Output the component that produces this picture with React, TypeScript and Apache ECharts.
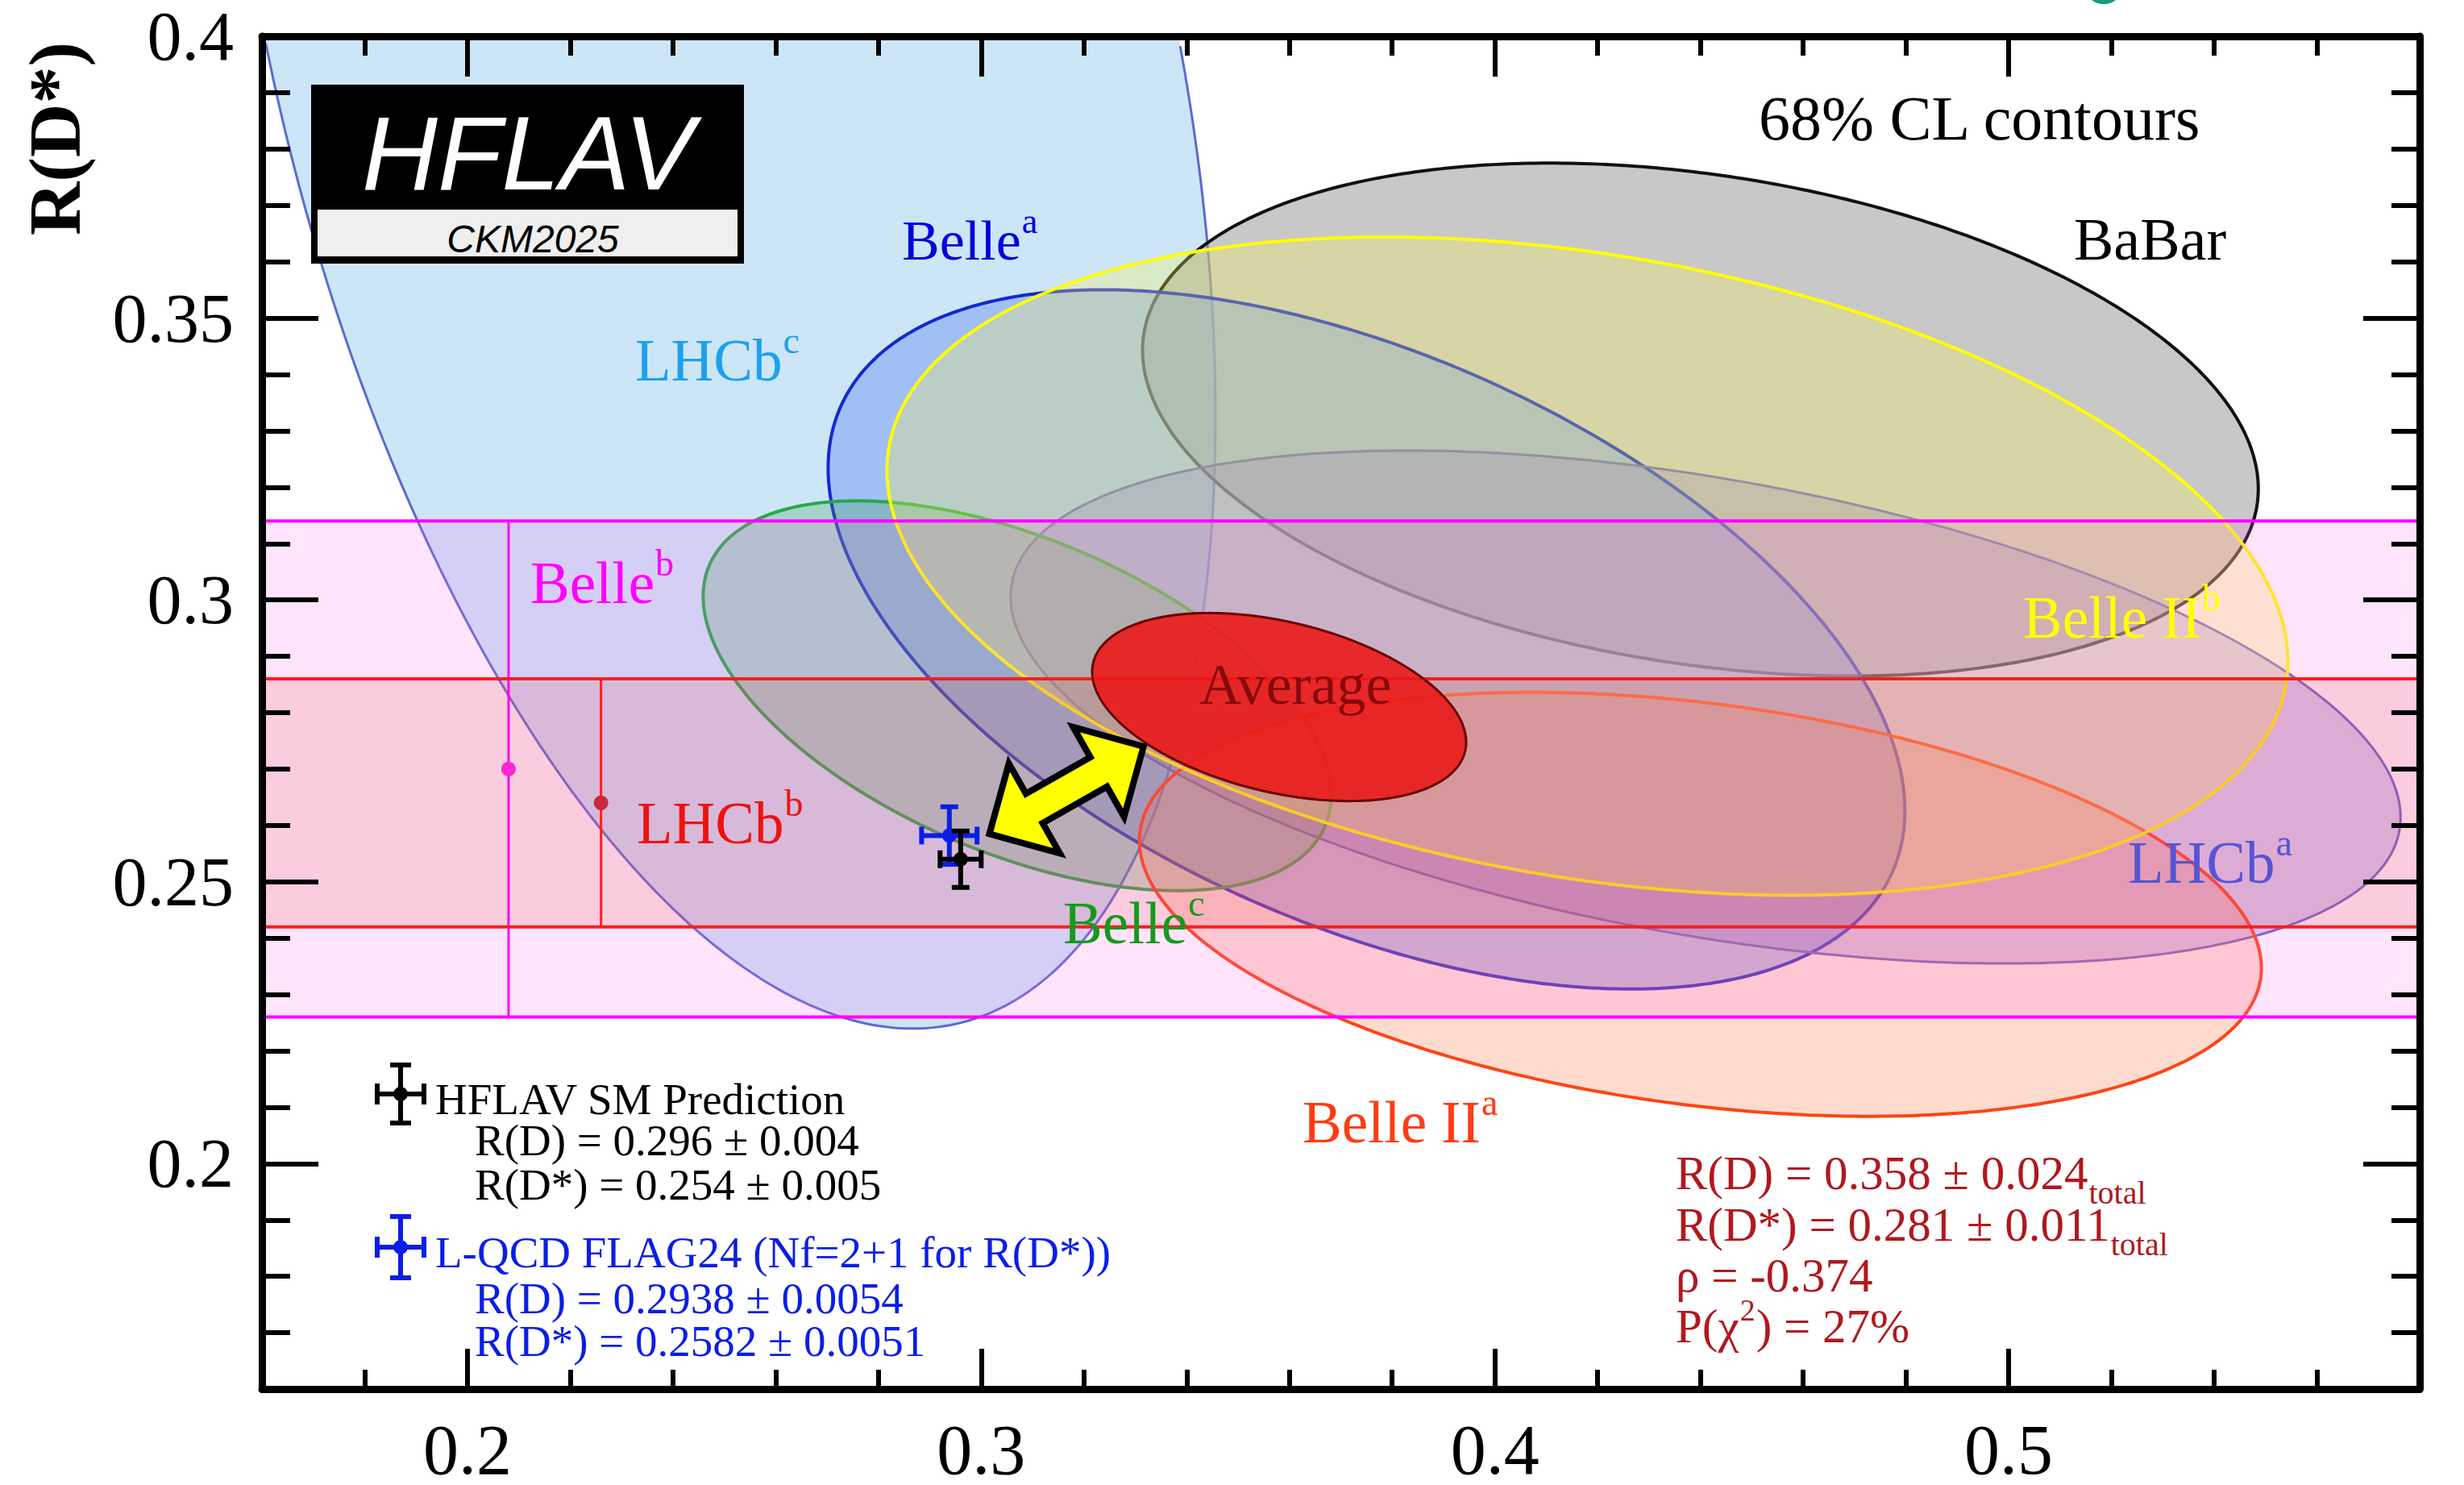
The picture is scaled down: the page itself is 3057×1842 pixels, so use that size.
import React, { useEffect, useRef } from 'react';
import * as echarts from 'echarts';

// ---------------- data ----------------
const X_MIN = 0.16;
const X_MAX = 0.58;
const Y_MIN = 0.16;
const Y_MAX = 0.4;

const xMajorTicks = [0.2, 0.3, 0.4, 0.5];
const xMinorTicks = [0.18, 0.22, 0.24, 0.26, 0.28, 0.32, 0.34, 0.36, 0.38, 0.42, 0.44, 0.46, 0.48, 0.52, 0.54, 0.56];
const yMajorTicks = [0.2, 0.25, 0.3, 0.35, 0.4];
const yMinorTicks = [0.17, 0.18, 0.19, 0.21, 0.22, 0.23, 0.24, 0.26, 0.27, 0.28, 0.29, 0.31, 0.32, 0.33, 0.34, 0.36, 0.37, 0.38, 0.39];

// 2D measurements (68% CL contours): R(D), σ, R(D*), σ, ρ
const ellipseNames = ['LHCb^c', 'BaBar', 'Belle^a', 'LHCb^a', 'Belle^c', 'Belle II^a', 'Belle II^b'];
const ellipseRD = [0.249, 0.44, 0.375, 0.441, 0.307, 0.44, 0.418];
const ellipseRDErr = [0.0637, 0.0716, 0.0691, 0.0892, 0.0403, 0.072, 0.0899];
const ellipseRDs = [0.402, 0.332, 0.293, 0.281, 0.283, 0.246, 0.306];
const ellipseRDsErr = [0.1174, 0.03, 0.0409, 0.03, 0.0228, 0.0248, 0.0385];
const ellipseRho = [-0.39, -0.27, -0.49, -0.43, -0.51, -0.3, -0.29];

// R(D*)-only measurements (1σ bands)
const bandNames = ['Belle^b', 'LHCb^b'];
const bandRDs = [0.27, 0.264];
const bandRDsErr = [0.044, 0.022];
const bandMarkerRD = [0.208, 0.226];

// average
const averageRD = 0.358;
const averageRDErr = 0.024;
const averageRDs = 0.281;
const averageRDsErr = 0.011;
const averageRho = -0.374;
const averageChi2Prob = '27%';

// predictions
const predNames = ['L-QCD FLAG24', 'HFLAV SM'];
const predRD = [0.2938, 0.296];
const predRDErr = [0.0054, 0.004];
const predRDs = [0.2582, 0.254];
const predRDsErr = [0.0051, 0.005];

// arrow (tension between SM and average)
const arrowFrom = [0.3016, 0.2585];
const arrowTo = [0.3316, 0.274];

// ---------------- styles ----------------
const SERIF = "'Liberation Serif', 'Times New Roman', serif";
const SANS = "'Liberation Sans', Arial, sans-serif";
const K68 = Math.sqrt(2.3);

const ellipseStyle: Record<string, { fill: string; stroke: string; width: number }> = {
  'LHCb^c': { fill: 'rgba(153,205,241,0.5)', stroke: '#5b6bd0', width: 3 },
  BaBar: { fill: 'rgba(145,145,145,0.5)', stroke: '#111111', width: 4 },
  'Belle^a': { fill: 'rgba(116,152,242,0.5)', stroke: '#1428d2', width: 4 },
  'LHCb^a': { fill: 'rgba(120,105,215,0.3)', stroke: '#6468c0', width: 3 },
  'Belle^c': { fill: 'rgba(60,165,80,0.28)', stroke: '#28a848', width: 4 },
  'Belle II^a': { fill: 'rgba(255,110,60,0.25)', stroke: '#ff4414', width: 4 },
  'Belle II^b': { fill: 'rgba(253,243,87,0.3)', stroke: '#ffff00', width: 4 },
};
const averageStyle = { fill: 'rgba(236,22,22,0.88)', stroke: '#6a0000', width: 3 };
const bandStyle: Record<string, { fill: string; line: string; dot: string }> = {
  'Belle^b': { fill: 'rgba(255,105,240,0.18)', line: '#ff00ff', dot: '#ff22ee' },
  'LHCb^b': { fill: 'rgba(230,60,40,0.14)', line: '#ff1c1c', dot: '#c8283c' },
};
const predColor: Record<string, string> = { 'L-QCD FLAG24': '#0a1ee6', 'HFLAV SM': '#000000' };

// ---------------- helpers ----------------
let measureCtx: CanvasRenderingContext2D | null = null;
function measure(text: string, size: number, family = SERIF, weight = 'normal') {
  if (!measureCtx) measureCtx = document.createElement('canvas').getContext('2d');
  measureCtx!.font = `${weight} ${size}px ${family}`;
  return measureCtx!.measureText(text).width;
}

function gText(x: number, baseline: number, text: string, size: number, color: string, extra: any = {}) {
  const weight = extra.weight || 'normal';
  const fstyle = extra.fontStyle || 'normal';
  const family = extra.family || SERIF;
  const align = extra.align || 'left';
  return {
    type: 'text',
    z: 50,
    x,
    y: extra.rotation ? baseline : baseline - 0.34 * size,
    rotation: extra.rotation || 0,
    silent: true,
    style: {
      text,
      fill: color,
      font: `${fstyle} ${weight} ${size}px ${family}`,
      textAlign: align,
      textVerticalAlign: 'middle',
      align,
      verticalAlign: 'middle',
      lineHeight: extra.lineHeight ?? Math.round(size * 0.9),
      opacity: extra.opacity ?? 1,
    },
  };
}

function supLabel(x: number, baseline: number, base: string, sup: string, size: number, color: string) {
  const els: any[] = [gText(x, baseline, base, size, color)];
  if (sup) {
    els.push(gText(x + measure(base, size) + 1, baseline - 0.46 * size, sup, Math.round(size * 0.63), color));
  }
  return els;
}

function subLine(x: number, baseline: number, base: string, sub: string, size: number, color: string) {
  const els: any[] = [gText(x, baseline, base, size, color, { lineHeight: 48 })];
  if (sub) els.push(gText(x + measure(base, size) + 1, baseline + 0.3 * size, sub, Math.round(size * 0.68), color, { lineHeight: 30 }));
  return els;
}

function gLine(x1: number, y1: number, x2: number, y2: number, color: string, w: number) {
  return { type: 'line', z: 50, silent: true, shape: { x1, y1, x2, y2 }, style: { stroke: color, lineWidth: w } };
}

function legendCross(cx: number, cy: number, hx: number, hy: number, color: string) {
  const cap = 13;
  return [
    gLine(cx - hx, cy, cx + hx, cy, color, 6),
    gLine(cx, cy - hy, cx, cy + hy, color, 6),
    gLine(cx - hx, cy - cap, cx - hx, cy + cap, color, 6),
    gLine(cx + hx, cy - cap, cx + hx, cy + cap, color, 6),
    gLine(cx - cap, cy - hy, cx + cap, cy - hy, color, 6),
    gLine(cx - cap, cy + hy, cx + cap, cy + hy, color, 6),
    { type: 'circle', z: 50, silent: true, shape: { cx, cy, r: 9 }, style: { fill: color } },
  ];
}

function clipPolygon(pts: number[][], xmin: number, ymin: number, xmax: number, ymax: number) {
  const clipEdge = (input: number[][], inside: (p: number[]) => boolean, inter: (a: number[], b: number[]) => number[]) => {
    const out: number[][] = [];
    for (let i = 0; i < input.length; i++) {
      const cur = input[i];
      const prev = input[(i + input.length - 1) % input.length];
      const cIn = inside(cur);
      const pIn = inside(prev);
      if (cIn) {
        if (!pIn) out.push(inter(prev, cur));
        out.push(cur);
      } else if (pIn) out.push(inter(prev, cur));
    }
    return out;
  };
  const ix = (xc: number) => (a: number[], b: number[]) => {
    const t = (xc - a[0]) / (b[0] - a[0]);
    return [xc, a[1] + t * (b[1] - a[1])];
  };
  const iy = (yc: number) => (a: number[], b: number[]) => {
    const t = (yc - a[1]) / (b[1] - a[1]);
    return [a[0] + t * (b[0] - a[0]), yc];
  };
  let p = pts;
  p = clipEdge(p, (q) => q[0] >= xmin, ix(xmin));
  if (p.length) p = clipEdge(p, (q) => q[0] <= xmax, ix(xmax));
  if (p.length) p = clipEdge(p, (q) => q[1] >= ymin, iy(ymin));
  if (p.length) p = clipEdge(p, (q) => q[1] <= ymax, iy(ymax));
  return p;
}

function insideSegments(pts: number[][], cs: any) {
  const inside = (p: number[]) => p[0] >= cs.x && p[0] <= cs.x + cs.width && p[1] >= cs.y && p[1] <= cs.y + cs.height;
  const n = pts.length;
  const start = pts.findIndex((p) => !inside(p));
  if (start < 0) return [[...pts, pts[0]]];
  const segs: number[][][] = [];
  let cur: number[][] = [];
  for (let k = 1; k <= n; k++) {
    const p = pts[(start + k) % n];
    if (inside(p)) cur.push(p);
    else {
      if (cur.length > 1) segs.push(cur);
      cur = [];
    }
  }
  if (cur.length > 1) segs.push(cur);
  return segs;
}

function ellipseElements(api: any, cs: any, mx: number, sx: number, my: number, sy: number, rho: number, st: any) {
  const pts: number[][] = [];
  const N = 480;
  const r2 = Math.sqrt(1 - rho * rho);
  for (let k = 0; k < N; k++) {
    const t = (2 * Math.PI * k) / N;
    const ct = Math.cos(t);
    const snt = Math.sin(t);
    pts.push(api.coord([mx + K68 * sx * ct, my + K68 * sy * (rho * ct + r2 * snt)]));
  }
  const fillPts = clipPolygon(pts, cs.x, cs.y, cs.x + cs.width, cs.y + cs.height);
  const segs = insideSegments(pts, cs);
  return [
    { type: 'polygon', shape: { points: fillPts }, style: { fill: st.fill, stroke: null } },
    ...segs.map((seg) => ({
      type: 'polyline',
      shape: { points: seg },
      style: { stroke: st.stroke, lineWidth: st.width, fill: null },
    })),
  ];
}

// ---------------- option ----------------
function buildOption() {
  const tickLine = { color: '#000', width: 6 };
  const mkX = (pos: string, major: boolean, labels: boolean) => ({
    type: 'value',
    min: X_MIN,
    max: X_MAX,
    position: pos,
    z: 10,
    silent: true,
    axisLine: { show: major, onZero: false, lineStyle: { color: '#000', width: 9 } },
    axisTick: {
      show: true,
      inside: true,
      length: major ? 50 : 24,
      customValues: major ? xMajorTicks : xMinorTicks,
      lineStyle: tickLine,
    },
    axisLabel: labels
      ? {
          show: true,
          customValues: xMajorTicks,
          margin: 51,
          lineHeight: 48,
          fontFamily: 'Liberation Serif',
          fontSize: 88,
          color: '#000',
          formatter: (v: number) => String(v),
        }
      : { show: false },
    splitLine: { show: false },
  });
  const mkY = (pos: string, major: boolean, labels: boolean) => ({
    type: 'value',
    min: Y_MIN,
    max: Y_MAX,
    position: pos,
    z: 10,
    silent: true,
    axisLine: { show: major, onZero: false, lineStyle: { color: '#000', width: 9 } },
    axisTick: {
      show: true,
      inside: true,
      length: major ? 70 : 35,
      customValues: major ? yMajorTicks : yMinorTicks,
      lineStyle: tickLine,
    },
    axisLabel: labels
      ? {
          show: true,
          customValues: yMajorTicks,
          margin: 35,
          lineHeight: 50,
          fontFamily: 'Liberation Serif',
          fontSize: 86,
          color: '#000',
          formatter: (v: number) => String(v),
        }
      : { show: false },
    splitLine: { show: false },
  });

  const ellipseData = ellipseNames.map((_, i) => [ellipseRD[i], ellipseRDErr[i], ellipseRDs[i], ellipseRDsErr[i], ellipseRho[i]]);
  const bandData = bandNames.map((_, i) => [bandMarkerRD[i], bandRDs[i], bandRDsErr[i]]);
  const predData = predNames.map((_, i) => [predRD[i], predRDErr[i], predRDs[i], predRDsErr[i]]);

  const series: any[] = [
    {
      type: 'custom',
      name: 'measurements',
      z: 2,
      silent: true,
      data: ellipseData,
      renderItem: (params: any, api: any) => {
        const cs = params.coordSys;
        const st = ellipseStyle[ellipseNames[params.dataIndex]];
        return {
          type: 'group',
          children: ellipseElements(api, cs, api.value(0), api.value(1), api.value(2), api.value(3), api.value(4), st),
        };
      },
    },
    {
      type: 'custom',
      name: 'bands',
      z: 3,
      silent: true,
      data: bandData,
      renderItem: (params: any, api: any) => {
        const cs = params.coordSys;
        const st = bandStyle[bandNames[params.dataIndex]];
        const mx = api.value(0);
        const c = api.value(1);
        const e = api.value(2);
        const top = api.coord([X_MIN, c + e])[1];
        const bot = api.coord([X_MIN, c - e])[1];
        const p = api.coord([mx, c]);
        return {
          type: 'group',
          children: [
            { type: 'rect', shape: { x: cs.x, y: top, width: cs.width, height: bot - top }, style: { fill: st.fill } },
            { type: 'line', shape: { x1: cs.x, y1: top, x2: cs.x + cs.width, y2: top }, style: { stroke: st.line, lineWidth: 4 } },
            { type: 'line', shape: { x1: cs.x, y1: bot, x2: cs.x + cs.width, y2: bot }, style: { stroke: st.line, lineWidth: 4 } },
            { type: 'line', shape: { x1: p[0], y1: top, x2: p[0], y2: bot }, style: { stroke: st.line, lineWidth: 3 } },
            { type: 'circle', shape: { cx: p[0], cy: p[1], r: 9 }, style: { fill: st.dot } },
          ],
        };
      },
    },
    {
      type: 'custom',
      name: 'average',
      z: 4,
      silent: true,
      data: [[averageRD, averageRDErr, averageRDs, averageRDsErr, averageRho]],
      renderItem: (params: any, api: any) => ({
        type: 'group',
        children: ellipseElements(api, params.coordSys, api.value(0), api.value(1), api.value(2), api.value(3), api.value(4), averageStyle),
      }),
    },
    {
      type: 'custom',
      name: 'arrow',
      z: 5,
      silent: true,
      data: [[arrowFrom[0], arrowFrom[1], arrowTo[0], arrowTo[1]]],
      renderItem: (params: any, api: any) => {
        const a = api.coord([api.value(0), api.value(1)]);
        const b = api.coord([api.value(2), api.value(3)]);
        const dx = b[0] - a[0];
        const dy = b[1] - a[1];
        const L = Math.hypot(dx, dy);
        const ux = dx / L;
        const uy = dy / L;
        const nx = -uy;
        const ny = ux;
        const H = 64;
        const W = 64;
        const S = 21;
        const pt = (s: number, n: number) => [a[0] + ux * s + nx * n, a[1] + uy * s + ny * n];
        const points = [pt(0, 0), pt(H, W), pt(H, S), pt(L - H, S), pt(L - H, W), pt(L, 0), pt(L - H, -W), pt(L - H, -S), pt(H, -S), pt(H, -W)];
        return { type: 'polygon', shape: { points }, style: { fill: '#ffff00', stroke: '#000', lineWidth: 8, lineJoin: 'miter' } };
      },
    },
    {
      type: 'custom',
      name: 'predictions',
      z: 6,
      silent: true,
      data: predData,
      renderItem: (params: any, api: any) => {
        const color = predColor[predNames[params.dataIndex]];
        const x = api.value(0);
        const ex = api.value(1);
        const y = api.value(2);
        const ey = api.value(3);
        const c = api.coord([x, y]);
        const l = api.coord([x - ex, y]);
        const r = api.coord([x + ex, y]);
        const t = api.coord([x, y + ey]);
        const b = api.coord([x, y - ey]);
        const cap = 11;
        const st = { stroke: color, lineWidth: 6 };
        return {
          type: 'group',
          children: [
            { type: 'line', shape: { x1: l[0], y1: c[1], x2: r[0], y2: c[1] }, style: st },
            { type: 'line', shape: { x1: c[0], y1: t[1], x2: c[0], y2: b[1] }, style: st },
            { type: 'line', shape: { x1: l[0], y1: c[1] - cap, x2: l[0], y2: c[1] + cap }, style: st },
            { type: 'line', shape: { x1: r[0], y1: c[1] - cap, x2: r[0], y2: c[1] + cap }, style: st },
            { type: 'line', shape: { x1: c[0] - cap, y1: t[1], x2: c[0] + cap, y2: t[1] }, style: st },
            { type: 'line', shape: { x1: c[0] - cap, y1: b[1], x2: c[0] + cap, y2: b[1] }, style: st },
            { type: 'circle', shape: { cx: c[0], cy: c[1], r: 9 }, style: { fill: color } },
          ],
        };
      },
    },
  ];

  // ---- annotations ----
  const g: any[] = [];
  // HFLAV logo
  g.push({ type: 'rect', z: 50, silent: true, shape: { x: 386, y: 105, width: 537, height: 222 }, style: { fill: '#000' } });
  g.push({ type: 'rect', z: 50, silent: true, shape: { x: 394, y: 260, width: 521, height: 58 }, style: { fill: '#efefef' } });
  g.push(gText(655, 234, 'HFLAV', 130, '#ffffff', { family: SANS, fontStyle: 'italic', align: 'center' }));
  g.push(gText(661, 313, 'CKM2025', 48, '#000000', { family: SANS, fontStyle: 'italic', align: 'center' }));
  // partial teal mark at top edge
  g.push({ type: 'circle', z: 50, silent: true, shape: { cx: 2610, cy: -20, r: 25 }, style: { fill: '#1a9c7c' } });

  // y-axis title
  g.push(gText(68, 172, 'R(D*)', 92, '#000', { weight: 'bold', align: 'center', rotation: Math.PI / 2, lineHeight: 80 }));

  // headline
  g.push(gText(2182, 173, '68% CL contours', 78, '#000'));

  // contour labels
  g.push(...supLabel(2573, 322, 'BaBar', '', 74, '#000000'));
  g.push(...supLabel(1119, 322, 'Belle', 'a', 70, '#0000dd'));
  g.push(...supLabel(788, 472, 'LHCb', 'c', 73, '#1ea0f0'));
  g.push(...supLabel(658, 748, 'Belle', 'b', 73, '#ff00ff'));
  g.push(...supLabel(790, 1046, 'LHCb', 'b', 73, '#ee1111'));
  g.push(...supLabel(1319, 1170, 'Belle', 'c', 73, '#149a1e'));
  g.push(...supLabel(2510, 791, 'Belle II', 'b', 73, '#ffff00'));
  g.push(...supLabel(2640, 1095, 'LHCb', 'a', 73, '#5555d5'));
  g.push(...supLabel(1616, 1417, 'Belle II', 'a', 73, '#ff3c14'));
  g.push(gText(1488, 873, 'Average', 72, 'rgba(105,0,0,0.75)'));

  // legend (predictions)
  const sm = 1;
  const lq = 0;
  const lh = { lineHeight: 46 };
  g.push(...legendCross(497, 1357, 29, 36, predColor[predNames[sm]]));
  g.push(gText(540, 1382, 'HFLAV SM Prediction', 55, '#000', lh));
  g.push(gText(589, 1433, `R(D) = ${predRD[sm]} \u00b1 ${predRDErr[sm]}`, 55, '#000', lh));
  g.push(gText(589, 1488, `R(D*) = ${predRDs[sm]} \u00b1 ${predRDsErr[sm]}`, 55, '#000', lh));
  const blue = predColor[predNames[lq]];
  g.push(...legendCross(497, 1547, 29, 38, blue));
  g.push(gText(540, 1572, 'L-QCD FLAG24 (Nf=2+1 for R(D*))', 55, blue, lh));
  g.push(gText(589, 1629, `R(D) = ${predRD[lq]} \u00b1 ${predRDErr[lq]}`, 55, blue, lh));
  g.push(gText(589, 1682, `R(D*) = ${predRDs[lq]} \u00b1 ${predRDsErr[lq]}`, 55, blue, lh));

  // average results
  const red = '#b0181e';
  g.push(...subLine(2079, 1475, `R(D) = ${averageRD} \u00b1 ${averageRDErr}`, 'total', 59, red));
  g.push(...subLine(2079, 1539, `R(D*) = ${averageRDs} \u00b1 ${averageRDsErr}`, 'total', 59, red));
  g.push(gText(2079, 1602, `\u03c1 = ${averageRho}`, 59, red, { lineHeight: 48 }));
  const p1 = 'P(\u03c7';
  const w1 = measure(p1, 59);
  g.push(gText(2079, 1665, p1, 59, red, { lineHeight: 48 }));
  g.push(gText(2079 + w1 + 1, 1665 - 27, '2', 38, red, { lineHeight: 30 }));
  g.push(gText(2079 + w1 + 1 + measure('2', 38) + 1, 1665, `) = ${averageChi2Prob}`, 59, red, { lineHeight: 48 }));

  return {
    animation: false,
    backgroundColor: '#ffffff',
    grid: { left: 325, right: 55, top: 45, bottom: 110, containLabel: false },
    xAxis: [mkX('bottom', true, true), mkX('bottom', false, false), mkX('top', true, false), mkX('top', false, false)],
    yAxis: [mkY('left', true, true), mkY('left', false, false), mkY('right', true, false), mkY('right', false, false)],
    series,
    graphic: { elements: g },
  };
}

export default function App() {
  const ref = useRef<HTMLDivElement>(null);
  useEffect(() => {
    if (!ref.current) return;
    const chart = echarts.init(ref.current, null, { renderer: 'svg' });
    chart.setOption(buildOption() as any);
    return () => chart.dispose();
  }, []);
  return (
    <div
      ref={ref}
      style={{ position: 'absolute', left: 0, top: 0, width: 3057, height: 1842, background: '#fff' }}
    />
  );
}
